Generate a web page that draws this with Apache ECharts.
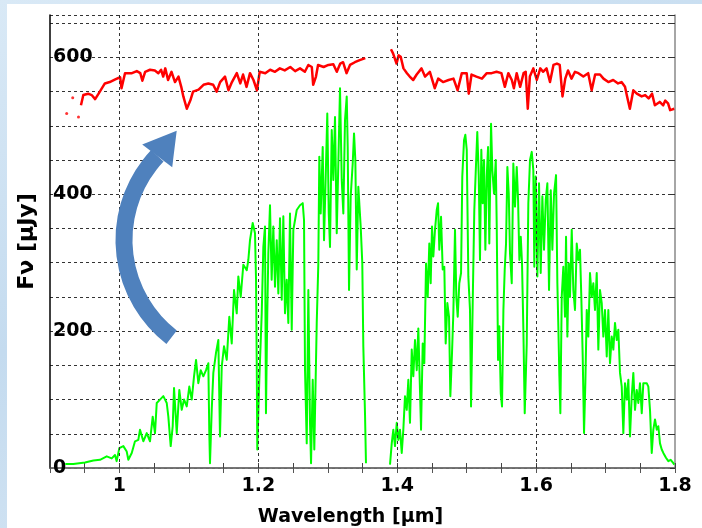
<!DOCTYPE html>
<html>
<head>
<meta charset="utf-8">
<title>Spectrum</title>
<script src="https://cdn.jsdelivr.net/npm/echarts/dist/echarts.min.js"></script>
<style>
  html, body { margin: 0; padding: 0; }
  body {
    width: 702px; height: 528px; position: relative; overflow: hidden;
    background: linear-gradient(160deg, #d9e9f6 0%, #c4dbef 45%, #dbe9f5 100%);
  }
  .paper { position: absolute; left: 7px; top: 4px; right: 0; bottom: 0; background: #ffffff; }
  #chart { position: absolute; left: 0; top: 0; width: 702px; height: 528px; }
</style>
</head>
<body>
<div class="paper"></div>
<div id="chart"></div>
<script>
// wavelength [um] / flux [uJy]
const redDots = [[0.924, 518], [0.9327, 541], [0.941, 513]];
const redBlue = [
  [0.9446,530],[0.948,545],[0.955,547],[0.960,545],[0.965,539],[0.970,547],[0.979,562],[0.986,564],[0.994,568],
  [1.001,571],[1.003,555],[1.008,577],[1.018,577],[1.025,580],[1.030,577],[1.033,566],[1.037,579],[1.044,582],
  [1.051,581],[1.056,577],[1.060,582],[1.063,572],[1.066,584],[1.070,567],[1.075,579],[1.080,564],[1.085,572],
  [1.089,557],[1.092,543],[1.097,525],[1.102,537],[1.106,550],[1.114,553],[1.121,560],[1.128,562],[1.135,560],
  [1.140,550],[1.145,564],[1.152,572],[1.157,552],[1.162,564],[1.169,577],[1.174,562],[1.178,575],[1.183,557],
  [1.188,577],[1.193,567],[1.198,552],[1.202,579],[1.210,577],[1.217,582],[1.224,579],[1.231,584],[1.238,581],
  [1.246,586],[1.253,580],[1.260,584],[1.267,579],[1.272,589],[1.277,586],[1.279,560],[1.283,572],[1.286,589],
  [1.294,586],[1.301,589],[1.308,590],[1.313,579],[1.318,591],[1.322,593],[1.327,577],[1.332,589],[1.339,593],
  [1.346,596],[1.354,599]
];
const redRed = [
  [1.391,612],[1.394,606],[1.399,591],[1.402,603],[1.405,601],[1.409,584],[1.414,577],[1.418,572],[1.423,567],
  [1.428,575],[1.435,584],[1.440,572],[1.447,579],[1.454,555],[1.459,569],[1.466,564],[1.474,567],[1.481,569],
  [1.487,552],[1.493,577],[1.500,577],[1.503,547],[1.507,575],[1.514,572],[1.522,569],[1.529,577],[1.536,577],
  [1.543,579],[1.550,577],[1.555,557],[1.560,577],[1.565,567],[1.568,555],[1.572,577],[1.577,557],[1.582,577],
  [1.585,579],[1.588,525],[1.591,572],[1.596,584],[1.601,567],[1.606,584],[1.610,579],[1.615,584],[1.620,564],
  [1.625,589],[1.630,591],[1.634,589],[1.638,543],[1.642,569],[1.646,581],[1.651,569],[1.656,579],[1.661,577],
  [1.668,572],[1.675,577],[1.680,552],[1.685,575],[1.692,575],[1.697,569],[1.704,564],[1.711,567],[1.718,562],
  [1.723,564],[1.728,557],[1.731,543],[1.735,525],[1.740,552],[1.745,547],[1.752,543],[1.757,545],[1.762,540],
  [1.767,547],[1.771,530],[1.778,535],[1.783,530],[1.786,537],[1.790,533],[1.793,523],[1.799,525]
];
const greenBlue = [
  [0.922,6],[0.9336,6],[0.9504,8],[0.9624,11],[0.972,12],[0.9817,17],[0.9889,14],[0.9936,19],[0.996,10],
  [0.9998,29],[1.0056,32],[1.0105,24],[1.0128,12],[1.0177,22],[1.0224,39],[1.0272,41],[1.0296,56],[1.0344,39],
  [1.0393,51],[1.044,39],[1.0479,75],[1.0512,51],[1.0537,95],[1.0584,100],[1.0632,105],[1.0681,95],[1.0704,75],
  [1.0738,32],[1.0767,61],[1.0786,117],[1.0825,51],[1.0862,114],[1.0897,85],[1.093,100],[1.0969,90],[1.1006,119],
  [1.1041,100],[1.1074,134],[1.1103,158],[1.1136,124],[1.117,143],[1.1208,134],[1.1247,143],[1.128,153],
  [1.1294,51],[1.1304,7],[1.1329,85],[1.1352,139],[1.139,168],[1.1424,187],[1.1448,46],[1.1473,148],[1.1506,178],
  [1.1545,158],[1.1582,221],[1.1617,182],[1.165,260],[1.1689,226],[1.1712,280],[1.1746,250],[1.1784,297],
  [1.1833,289],[1.1856,304],[1.188,333],[1.1919,358],[1.1952,343],[1.1967,275],[1.1977,153],[1.1985,27],
  [1.2014,129],[1.2049,226],[1.2072,323],[1.2096,353],[1.211,80],[1.2129,226],[1.2144,314],[1.2168,384],
  [1.2192,275],[1.2216,353],[1.224,265],[1.2265,333],[1.2288,255],[1.2312,365],[1.2337,246],[1.236,368],
  [1.2384,226],[1.2409,275],[1.2432,212],[1.2456,372],[1.2481,202],[1.2504,348],[1.2528,362],[1.2553,377],
  [1.26,384],[1.2639,387],[1.2658,362],[1.2672,144],[1.2697,36],[1.272,260],[1.2744,66],[1.2759,7],[1.2783,129],
  [1.2806,27],[1.2841,212],[1.2864,299],[1.2878,455],[1.2898,372],[1.2927,469],[1.2946,333],[1.2975,445],
  [1.2993,518],[1.3014,372],[1.3032,323],[1.3057,494],[1.308,421],[1.3104,513],[1.3129,343],[1.3152,445],
  [1.3176,555],[1.3201,421],[1.3224,372],[1.3248,508],[1.3273,543],[1.3287,469],[1.3306,260],[1.333,397],
  [1.3359,445],[1.3378,489],[1.3397,450],[1.3417,290],[1.344,411],[1.3474,353],[1.3497,299],[1.3512,177],
  [1.3536,80],[1.355,7]
];
const greenRed = [
  [1.3896,5],[1.3921,36],[1.3944,56],[1.3968,32],[1.3993,66],[1.4016,41],[1.404,56],[1.4065,22],[1.4088,56],
  [1.4112,105],[1.4137,85],[1.416,129],[1.4184,66],[1.4209,173],[1.4232,134],[1.4256,187],[1.4281,143],
  [1.4304,204],[1.4328,202],[1.4343,56],[1.4367,182],[1.439,153],[1.4415,299],[1.4439,250],[1.4462,328],
  [1.4482,270],[1.4501,353],[1.452,309],[1.4544,348],[1.4569,377],[1.4588,387],[1.4606,319],[1.4631,367],
  [1.4655,290],[1.4678,294],[1.4698,182],[1.4722,241],[1.4746,221],[1.4765,105],[1.4789,168],[1.4808,226],
  [1.4832,348],[1.4851,250],[1.4871,221],[1.4894,270],[1.4919,285],[1.4937,426],[1.4962,479],[1.4981,487],
  [1.5001,465],[1.5024,280],[1.5048,231],[1.5063,90],[1.5087,241],[1.511,377],[1.5135,445],[1.5153,491],
  [1.5174,426],[1.5192,304],[1.5211,465],[1.5231,387],[1.525,450],[1.5269,319],[1.5289,426],[1.5308,469],
  [1.5326,328],[1.5351,503],[1.537,435],[1.5394,401],[1.5419,450],[1.5433,353],[1.5452,158],[1.547,207],
  [1.5491,109],[1.5509,90],[1.5529,231],[1.5548,290],[1.5567,328],[1.5586,440],[1.5606,401],[1.5624,314],
  [1.5649,270],[1.5672,445],[1.5696,382],[1.5721,440],[1.574,392],[1.5759,304],[1.5779,338],[1.5797,299],
  [1.5817,200],[1.5836,80],[1.5865,182],[1.5888,387],[1.5912,450],[1.5937,462],[1.596,435],[1.5974,294],
  [1.5994,426],[1.6018,280],[1.6042,416],[1.6066,285],[1.609,397],[1.6114,319],[1.6139,392],[1.6162,416],
  [1.6186,260],[1.6211,406],[1.6234,319],[1.6258,401],[1.6287,428],[1.6306,270],[1.632,207],[1.6335,134],
  [1.6349,80],[1.6369,250],[1.6392,294],[1.6416,221],[1.6431,338],[1.645,192],[1.647,299],[1.6488,250],
  [1.6513,348],[1.6536,260],[1.656,231],[1.6585,328],[1.6608,304],[1.6632,319],[1.6651,250],[1.6671,163],
  [1.669,51],[1.6709,124],[1.6729,231],[1.6752,192],[1.6776,285],[1.6801,250],[1.6824,270],[1.6848,231],
  [1.6873,285],[1.6896,173],[1.692,260],[1.6945,241],[1.6968,192],[1.6992,231],[1.7017,163],[1.704,231],
  [1.7064,153],[1.7089,192],[1.7112,173],[1.7136,212],[1.7161,187],[1.7184,202],[1.7208,139],[1.7233,119],
  [1.7256,51],[1.728,124],[1.7305,100],[1.7328,129],[1.7352,46],[1.7377,105],[1.74,139],[1.7424,85],
  [1.7449,114],[1.7472,95],[1.7496,124],[1.7521,80],[1.7544,124],[1.7568,126],[1.7593,124],[1.7616,119],
  [1.764,85],[1.7665,22],[1.7688,56],[1.7712,71],[1.7737,56],[1.776,61],[1.7784,36],[1.7809,27],[1.7832,22],
  [1.787,15],[1.7904,10],[1.7938,12],[1.7976,7],[1.799,5]
];
const gridX = [1.0, 1.2, 1.4, 1.6];   // vertical dashed lines
const xRange = [0.9, 1.8];
const yRange = [0, 662];

const font = 'DejaVu Sans';
const labelStyle = { color: '#000', fontWeight: 'bold', fontSize: 19, fontFamily: font };

let myChart = echarts.init(document.getElementById('chart'), null, { renderer: 'canvas' });

function xLabel(v) {
  let k = v * 5;
  return Math.abs(k - Math.round(k)) < 1e-6 ? String(+v.toFixed(1)) : '';
}
function yLabel(v) {
  return v % 200 === 0 ? String(v) : '';
}

function spectrum(data, color, width) {
  return {
    type: 'line', data: data, showSymbol: false, symbol: 'none', z: 3,
    lineStyle: { color: color, width: width, join: 'round' }, silent: true
  };
}

let option = {
  animation: false,
  backgroundColor: 'transparent',
  grid: { left: 50, right: 27, top: 15, bottom: 60, containLabel: false, outerBoundsMode: 'none' },
  xAxis: [{
    type: 'value', min: xRange[0], max: xRange[1], interval: 0.05, position: 'bottom',
    axisLine: { show: true, lineStyle: { color: '#000', width: 1.5 } },
    axisTick: { show: true, inside: true, length: 5, lineStyle: { color: '#444', width: 1 } },
    axisLabel: Object.assign({ margin: 9, formatter: xLabel, showMinLabel: true, showMaxLabel: true }, labelStyle),
    splitLine: { show: false },
    name: 'Wavelength [µm]', nameLocation: 'middle', nameGap: 40,
    nameTextStyle: Object.assign({ padding: [0, 24, 0, 0] }, labelStyle)
  }, {
    type: 'value', min: xRange[0], max: xRange[1], interval: 0.05, position: 'top',
    axisLine: { show: true, lineStyle: { color: '#888', width: 1.5 } },
    axisTick: { show: true, inside: true, length: 5, lineStyle: { color: '#555', width: 1 } },
    axisLabel: { show: false }, splitLine: { show: false }
  }],
  yAxis: [{
    type: 'value', min: yRange[0], max: yRange[1], interval: 50, position: 'left',
    axisLine: { show: true, lineStyle: { color: '#000', width: 1.5 } },
    axisTick: { show: false },
    axisLabel: Object.assign({ inside: true, margin: 3, formatter: yLabel }, labelStyle),
    splitLine: { show: true, lineStyle: { type: [3, 3], color: '#333', width: 1 } },
    name: 'Fν [µJy]', nameLocation: 'middle', nameGap: 12,
    nameTextStyle: Object.assign({}, labelStyle, { fontSize: 22 })
  }, {
    type: 'value', min: yRange[0], max: yRange[1], interval: 50, position: 'right',
    axisLine: { show: true, lineStyle: { color: '#888', width: 1.5 } },
    axisTick: { show: true, inside: true, length: 5, lineStyle: { color: '#333', width: 1 } },
    axisLabel: { show: false }, splitLine: { show: false }
  }],
  series: [
    { // vertical grid lines at the labelled wavelengths
      type: 'line', data: [], z: 1, silent: true,
      markLine: {
        silent: true, symbol: ['none', 'none'], label: { show: false },
        lineStyle: { type: [3, 3], color: '#333', width: 1 },
        data: gridX.map(v => ({ xAxis: v }))
      }
    },
    spectrum(greenBlue, '#00ff00', 2),
    spectrum(greenRed, '#00ff00', 2),
    spectrum(redBlue, '#ff0000', 2.5),
    spectrum(redRed, '#ff0000', 2.5),
    { type: 'scatter', data: redDots, symbolSize: 3, itemStyle: { color: '#ff0000' }, z: 3, silent: true }
  ],
  graphic: [
    { // curved arrow annotation
      type: 'arc', z: 10, silent: true,
      shape: { cx: 247, cy: 240, r: 123, startAngle: 127.8 * Math.PI / 180, endAngle: 223.2 * Math.PI / 180, clockwise: true },
      style: { stroke: '#4f81bd', lineWidth: 17, fill: null, lineCap: 'butt' }
    },
    {
      type: 'polygon', z: 10, silent: true,
      shape: { points: [[176.7, 130.7], [142.2, 144.5], [172.2, 167.2]] },
      style: { fill: '#4f81bd' }
    }
  ]
};

myChart.setOption(option, true);
</script>
</body>
</html>
